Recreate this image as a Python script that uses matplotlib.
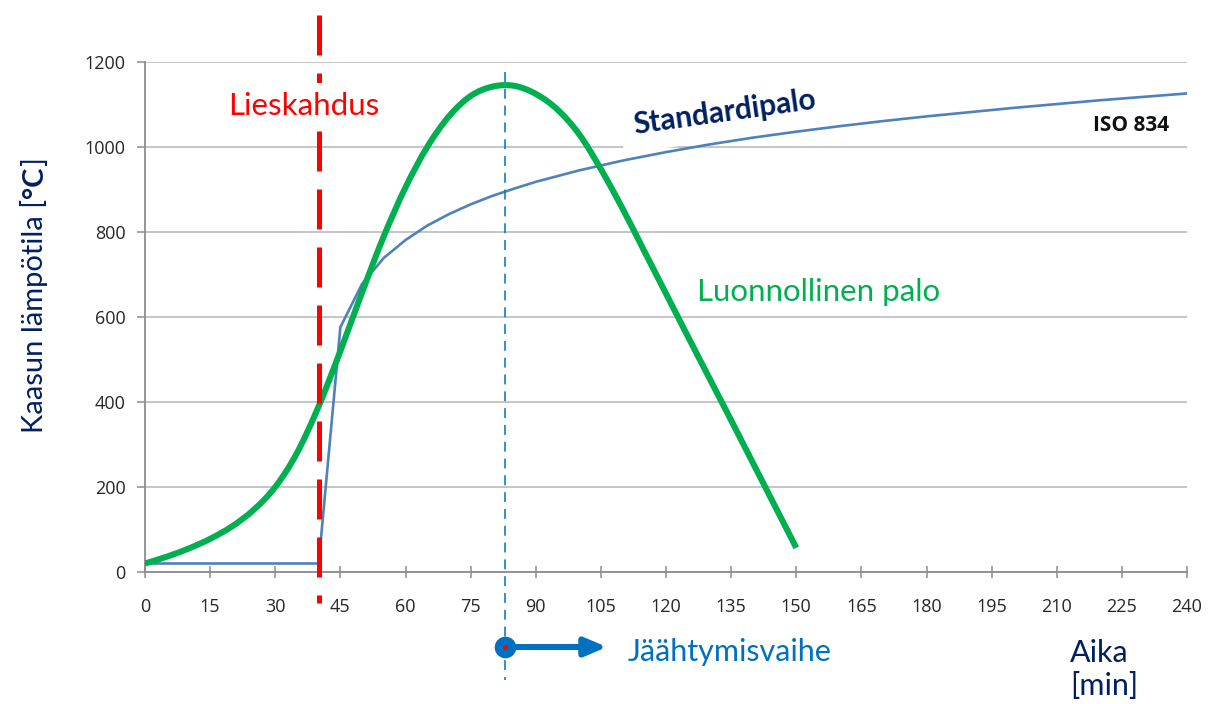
import matplotlib
matplotlib.use("Agg")
import matplotlib.pyplot as plt
from matplotlib.path import Path
from matplotlib.patches import PathPatch

plt.rcParams['font.family'] = ['Lato', 'DejaVu Sans']

# ISO 834 standard fire curve (starts at flashover)
std_time = [0, 40, 45, 50, 55, 60, 65, 70, 75, 80, 85, 90, 100, 110, 120, 130,
            140, 150, 160, 170, 180, 190, 200, 210, 220, 230, 240]
std_temp = [20, 20, 576, 678, 739, 781, 815, 842, 865, 885, 902, 918, 945, 968,
            988, 1006, 1022, 1036, 1049, 1061, 1072, 1082, 1092, 1101, 1110, 1118, 1126]

# natural fire curve
nat_time = [0, 5, 10, 15, 20, 25, 30, 35, 40, 45, 50, 55, 60, 65, 70, 75, 80, 85,
            90, 95, 100, 105, 110, 115, 120, 125, 130, 135, 140, 145, 150]
nat_temp = [20, 36, 55, 78, 107, 146, 200, 280, 390, 520, 658, 790, 905, 1000, 1072,
            1120, 1142, 1144, 1125, 1088, 1030, 948, 855, 755, 655, 555, 456,
            357, 257, 157, 57]

flashover_time = 40
cooling_time = 83

x_ticks = list(range(0, 241, 15))
y_ticks = list(range(0, 1201, 200))

W, H = 1209, 704
fig = plt.figure(figsize=(W / 100, H / 100), dpi=100)
ax = fig.add_axes([145 / W, 132 / H, 1042 / W, 510 / H])

# pixel helpers (only for placing annotations)
def dx(px):
    return (px - 145) / 1042 * 240

def dy(py):
    return (572 - py) / 510 * 1200

def smooth_path(xs, ys):
    # Excel-like smoothed line: cubic bezier segments through the points
    verts = [(xs[0], ys[0])]
    codes = [Path.MOVETO]
    n = len(xs)
    for i in range(n - 1):
        x0, y0 = (xs[i - 1], ys[i - 1]) if i > 0 else (xs[i], ys[i])
        x3, y3 = (xs[i + 2], ys[i + 2]) if i + 2 < n else (xs[i + 1], ys[i + 1])
        c1 = (xs[i] + (xs[i + 1] - x0) / 6, ys[i] + (ys[i + 1] - y0) / 6)
        c2 = (xs[i + 1] - (x3 - xs[i]) / 6, ys[i + 1] - (y3 - ys[i]) / 6)
        verts += [c1, c2, (xs[i + 1], ys[i + 1])]
        codes += [Path.CURVE4] * 3
    return Path(verts, codes)

ax.set_xlim(0, 240)
ax.set_ylim(0, 1200)
ax.set_xticks(x_ticks)
ax.set_yticks(y_ticks)
for s in ['top', 'right']:
    ax.spines[s].set_visible(False)
for s in ['left', 'bottom']:
    ax.spines[s].set_color('#8c8c8c')
    ax.spines[s].set_linewidth(1.3)
ax.yaxis.grid(True, color='#c0c0c0', linewidth=1.3)
ax.set_axisbelow(True)
ax.tick_params(axis='x', direction='inout', length=9, width=1.1, color='#8c8c8c',
               pad=14, labelsize=13, labelcolor='#262626')
ax.tick_params(axis='y', direction='out', length=6, width=1.1, color='#8c8c8c',
               pad=8, labelsize=13, labelcolor='#262626')
for lab in ax.get_xticklabels() + ax.get_yticklabels():
    lab.set_fontfamily(['Open Sans', 'DejaVu Sans'])

ax.plot(std_time, std_temp, color='#4f81bd', linewidth=1.9, zorder=3)
ax.add_patch(PathPatch(smooth_path(nat_time, nat_temp), facecolor='none',
                       edgecolor='#00b050', linewidth=4.4, capstyle='butt', zorder=4))

# flashover line
ax.plot([flashover_time, flashover_time], [dy(15), dy(603)], color='#ff0000',
        linewidth=3.6, dashes=(8, 3.6), clip_on=False, zorder=5)
# start of cooling phase
ax.plot([cooling_time, cooling_time], [dy(72), dy(680)], color='#0070c0',
        linewidth=1.1, dashes=(6.5, 4.5), clip_on=False, zorder=5)

# arrow under the axis
ax.annotate('', xy=(dx(607), dy(647)), xytext=(cooling_time, dy(647)),
            arrowprops=dict(arrowstyle='-|>,head_length=1.3,head_width=0.55',
                            color='#0070c0', linewidth=4.3, shrinkA=0, shrinkB=0),
            annotation_clip=False, zorder=6)
ax.plot([cooling_time], [dy(647)], marker='o', markersize=14.5, color='#0070c0',
        clip_on=False, zorder=7)
ax.plot([cooling_time], [dy(647)], marker='o', markersize=3.5, color='#ff0000',
        markeredgewidth=0, clip_on=False, zorder=8)

ax.text(dx(228), dy(115), 'Lieskahdus', color='#ff0000', fontsize=22.5,
        ha='left', va='baseline', zorder=6,
        bbox=dict(boxstyle='square,pad=0.3', facecolor='white', edgecolor='none'))
ax.text(dx(725), dy(112), 'Standardipalo', color='#002060', fontsize=21.5,
        fontweight='bold', rotation=8, rotation_mode='anchor', ha='center',
        va='center', zorder=2.5,
        bbox=dict(boxstyle='square,pad=0.45', facecolor='white', edgecolor='none'))
ax.text(dx(1093), dy(131), 'ISO 834', color='#111111', fontsize=15,
        fontweight='bold', ha='left', va='baseline',
        fontfamily=['Open Sans', 'DejaVu Sans'])
ax.text(dx(697), dy(301), 'Luonnollinen palo', color='#00b050', fontsize=22.5,
        ha='left', va='baseline')
ax.text(dx(628), dy(661), 'Jäähtymisvaihe', color='#0070c0', fontsize=22,
        ha='left', va='baseline')
ax.text(dx(1070), dy(662), 'Aika', color='#002060', fontsize=22,
        ha='left', va='baseline')
ax.text(dx(1070), dy(695), '[min]', color='#002060', fontsize=22,
        ha='left', va='baseline')

# y label in pieces: normal text, bold unit, normal bracket
fig.canvas.draw()
r = fig.canvas.get_renderer()
x_base = 43 / W
y_start = (H - 433) / H
parts = [('Kaasun lämpötila [', 'normal'), ('°C', 'bold'), (']', 'normal')]
for txt, wt in parts:
    t = fig.text(x_base, y_start, txt, rotation=90, rotation_mode='anchor',
                 ha='left', va='baseline', fontsize=21, fontweight=wt,
                 color='#002060')
    bb = t.get_window_extent(renderer=r)
    y_start = (bb.y1 + 0.5) / H

fig.savefig('out.png', dpi=100)
